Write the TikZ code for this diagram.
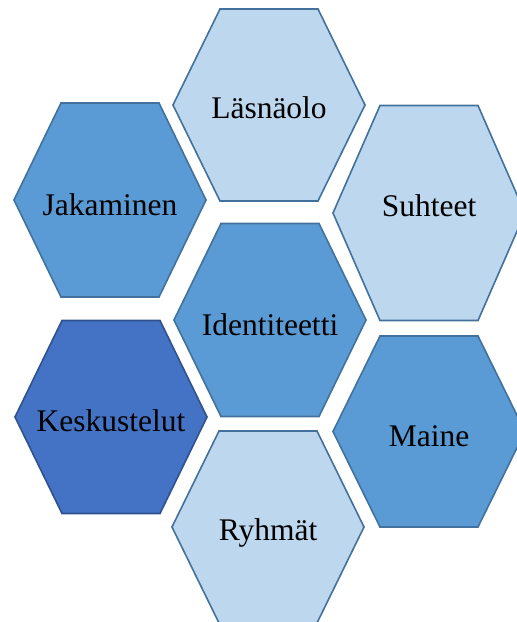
\documentclass[tikz,border=0pt]{standalone}
\usepackage{fontspec}
\setmainfont{Liberation Serif}
\definecolor{lightfill}{HTML}{BDD7EE}
\definecolor{midfill}{HTML}{5B9BD5}
\definecolor{darkfill}{HTML}{4472C4}
\definecolor{edgeblue}{HTML}{41719C}
\definecolor{darkedge}{HTML}{2F528F}
\tikzset{
  hexlabel/.style={font=\fontsize{31.5}{36}\selectfont, text=black, inner sep=0pt},
  hexshape/.style={line width=1.6pt, line join=miter},
}
% #1 centre, #2 fill, #3 edge, #4 half height
\newcommand\hexa[4]{%
  \filldraw[hexshape, fill=#2, draw=#3, shift={(#1)}]
    (-96,0) -- (-49,-#4) -- (49,-#4) -- (96,0) -- (49,#4) -- (-49,#4) -- cycle;}
\begin{document}
\begin{tikzpicture}[x=1pt,y=-1pt]
\useasboundingbox (0,0) rectangle (517,622);
\hexa{269,105}{lightfill}{edgeblue}{96}
\hexa{110,200}{midfill}{edgeblue}{97}
\hexa{429,213}{lightfill}{edgeblue}{107.5}
\hexa{270,320}{midfill}{edgeblue}{96.5}
\hexa{111,417}{darkfill}{darkedge}{96.5}
\hexa{429,431.5}{midfill}{edgeblue}{95.5}
\hexa{268,527}{lightfill}{edgeblue}{96}
\node[hexlabel] (las) at (269,108) {Läsnäolo};
\node[hexlabel] (jak) at (110,205) {Jakaminen};
\node[hexlabel] (suh) at (429,206) {Suhteet};
\node[hexlabel] (ide) at (270,325) {Identiteetti};
\node[hexlabel] (kes) at (111,421) {Keskustelut};
\node[hexlabel] (mai) at (429,436) {Maine};
\node[hexlabel] (ryh) at (268,533) {Ryhmät};
\end{tikzpicture}
\end{document}
